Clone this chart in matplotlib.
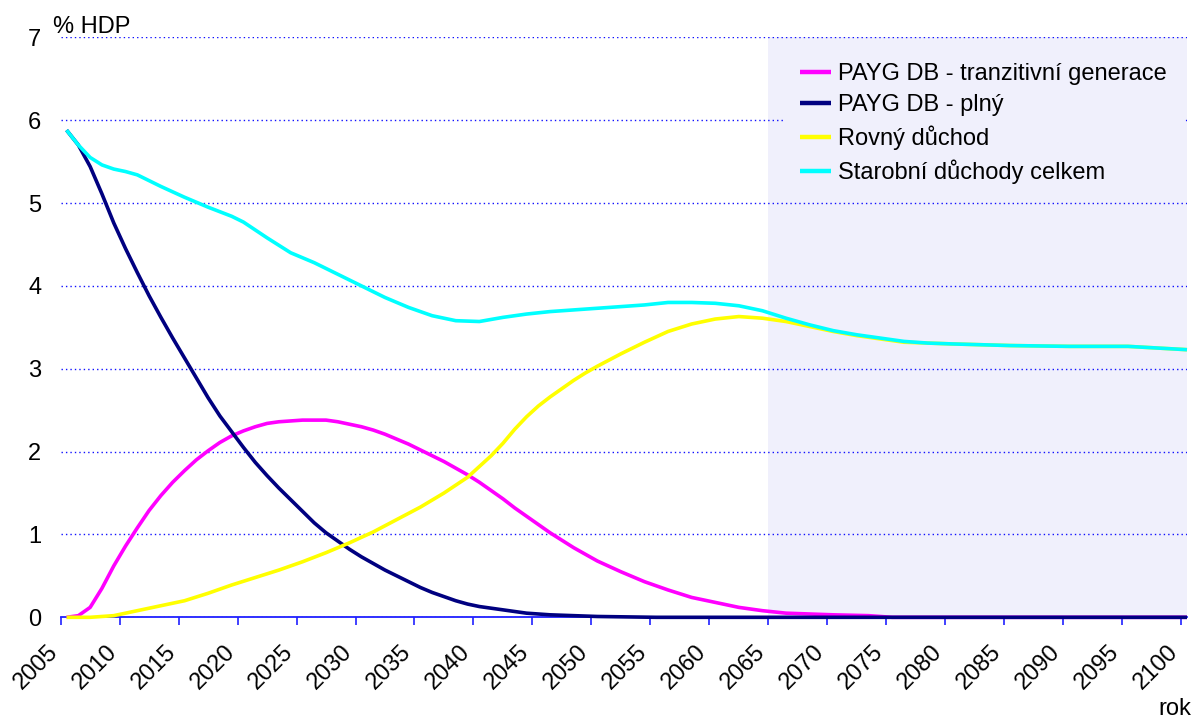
import matplotlib
matplotlib.use("Agg")
import matplotlib.pyplot as plt
import matplotlib.transforms as mtransforms
from matplotlib.ticker import FixedLocator

plt.rcParams["font.family"] = ["Liberation Sans", "DejaVu Sans"]

# PAYG DB - tranzitivní generace
yrs_tranz = [2005, 2006, 2007, 2008, 2009, 2010, 2011, 2012, 2013, 2014, 2015, 2016,
             2017, 2018, 2019, 2020, 2021, 2022, 2023, 2024, 2025, 2026, 2027, 2028,
             2029, 2030, 2031, 2032, 2033, 2034, 2035, 2036, 2037, 2038, 2039, 2040,
             2041, 2042, 2043, 2044, 2045, 2046, 2047, 2048, 2049, 2050, 2052, 2054,
             2056, 2058, 2060, 2062, 2064, 2066, 2068, 2070, 2073, 2075, 2100]
val_tranz = [0.0, 0.02, 0.12, 0.35, 0.62, 0.86, 1.08, 1.29, 1.47, 1.63, 1.77, 1.90,
             2.01, 2.11, 2.19, 2.25, 2.30, 2.34, 2.36, 2.37, 2.38, 2.38, 2.38, 2.36,
             2.33, 2.30, 2.26, 2.21, 2.15, 2.09, 2.02, 1.95, 1.88, 1.80, 1.72, 1.63,
             1.53, 1.43, 1.32, 1.22, 1.12, 1.02, 0.93, 0.84, 0.76, 0.68, 0.55, 0.43,
             0.33, 0.24, 0.18, 0.12, 0.08, 0.05, 0.04, 0.03, 0.02, 0.0, 0.0]

# PAYG DB - plný
yrs_plny = [2005, 2006, 2007, 2008, 2009, 2010, 2011, 2012, 2013, 2014, 2015, 2016,
            2017, 2018, 2019, 2020, 2021, 2022, 2023, 2024, 2025, 2026, 2027, 2028,
            2029, 2030, 2031, 2032, 2033, 2034, 2035, 2036, 2037, 2038, 2039, 2040,
            2042, 2044, 2046, 2048, 2050, 2055, 2100]
val_plny = [5.88, 5.70, 5.44, 5.11, 4.76, 4.45, 4.16, 3.88, 3.62, 3.37, 3.13, 2.89,
            2.65, 2.43, 2.24, 2.05, 1.87, 1.71, 1.56, 1.42, 1.28, 1.14, 1.02, 0.92,
            0.82, 0.73, 0.65, 0.57, 0.50, 0.43, 0.36, 0.30, 0.25, 0.20, 0.16, 0.13,
            0.09, 0.05, 0.03, 0.02, 0.01, 0.0, 0.0]

# Rovný důchod
yrs_rovny = [2005, 2007, 2009, 2011, 2013, 2015, 2017, 2019, 2021, 2023, 2025, 2027,
             2029, 2031, 2033, 2035, 2037, 2039, 2040, 2041, 2042, 2043, 2044, 2045,
             2046, 2047, 2048, 2049, 2050, 2052, 2054, 2056, 2058, 2060, 2062, 2064,
             2066, 2068, 2070, 2072, 2074, 2076, 2078, 2080, 2085, 2090, 2095, 2100]
val_rovny = [0.0, 0.0, 0.02, 0.08, 0.14, 0.20, 0.29, 0.39, 0.48, 0.57, 0.67, 0.78,
             0.90, 1.03, 1.18, 1.33, 1.50, 1.69, 1.82, 1.95, 2.10, 2.27, 2.42, 2.55,
             2.66, 2.76, 2.86, 2.95, 3.03, 3.18, 3.32, 3.45, 3.54, 3.60, 3.63, 3.61,
             3.57, 3.51, 3.45, 3.40, 3.36, 3.32, 3.31, 3.30, 3.28, 3.27, 3.27, 3.23]

# Starobní důchody celkem
yrs_celkem = [2005, 2006, 2007, 2008, 2009, 2010, 2011, 2012, 2013, 2015, 2017, 2019,
              2020, 2022, 2024, 2026, 2028, 2030, 2032, 2034, 2036, 2038, 2040, 2042,
              2044, 2046, 2048, 2050, 2052, 2054, 2056, 2058, 2060, 2062, 2064, 2066,
              2068, 2070, 2072, 2074, 2076, 2078, 2080, 2085, 2090, 2095, 2100]
val_celkem = [5.88, 5.70, 5.55, 5.46, 5.41, 5.38, 5.34, 5.27, 5.20, 5.07, 4.95, 4.84,
              4.77, 4.58, 4.40, 4.28, 4.14, 4.00, 3.86, 3.74, 3.64, 3.58, 3.57, 3.62,
              3.66, 3.69, 3.71, 3.73, 3.75, 3.77, 3.80, 3.80, 3.79, 3.76, 3.70, 3.61,
              3.53, 3.46, 3.41, 3.37, 3.33, 3.31, 3.30, 3.28, 3.27, 3.27, 3.23]

labels = ["PAYG DB - tranzitivní generace", "PAYG DB - plný",
          "Rovný důchod", "Starobní důchody celkem"]
colors = ["#FF00FF", "#000080", "#FFFF00", "#00FFFF"]
tick_years = list(range(2005, 2101, 5))
FS = 17

fig = plt.figure(figsize=(11.92, 7.22), dpi=100)
ax = fig.add_axes([0.0509, 0.1450, 0.9449, 0.8033])

ax.axvspan(2064.5, 2100, color="#F0F0FC", zorder=0, lw=0)

series = [(yrs_tranz, val_tranz), (yrs_plny, val_plny),
          (yrs_rovny, val_rovny), (yrs_celkem, val_celkem)]
for (x, y), lab, c in zip(series, labels, colors):
    ax.plot(x, y, color=c, lw=2.6, label=lab, solid_joinstyle="round",
            solid_capstyle="butt", clip_on=False, zorder=3)

ax.set_xlim(2004.5, 2100)
ax.set_ylim(0, 7)

for s in ["top", "right", "left"]:
    ax.spines[s].set_visible(False)
ax.spines["bottom"].set_color("#2020FF")
ax.spines["bottom"].set_linewidth(1.3)
ax.spines["bottom"].set_zorder(2)

ax.set_yticks(range(0, 8))
ax.yaxis.grid(True, color="#1010FF", lw=1.0, linestyle=(0, (1, 2.2)))
ax.set_axisbelow(True)
ax.tick_params(axis="y", length=0, pad=14, labelsize=FS)

ax.set_xticks(tick_years)
ax.set_xticklabels([str(y) for y in tick_years], rotation=45, ha="right",
                   va="top", rotation_mode="anchor")
ax.xaxis.set_minor_locator(FixedLocator([y - 0.5 for y in tick_years]))
ax.tick_params(axis="x", which="major", length=0, pad=17, labelsize=FS,
               colors="black")
ax.tick_params(axis="x", which="minor", length=6, width=1.2,
               color="#2020FF", direction="out")
shift = mtransforms.ScaledTranslation(-20 / 100, 0, fig.dpi_scale_trans)
for lbl in ax.get_xticklabels():
    lbl.set_transform(lbl.get_transform() + shift)

fig.text(53 / 1192, 1 - 33 / 722, "% HDP", fontsize=FS, va="baseline", ha="left")
fig.text(1158 / 1192, 1 - 720 / 722, "rok", fontsize=FS, va="bottom", ha="left")

leg = ax.legend(loc="upper left", bbox_to_anchor=(783 / 1192, 1 - 46 / 722),
                bbox_transform=fig.transFigure, frameon=True, fontsize=FS,
                handlelength=1.3, handletextpad=0.3, labelspacing=0.4,
                borderpad=0.72, borderaxespad=0, fancybox=False)
leg.get_frame().set_facecolor("#F0F0FC")
leg.get_frame().set_edgecolor("none")
leg.get_frame().set_alpha(1)
for h in leg.get_lines():
    h.set_linewidth(3.2)

fig.savefig("out.png", dpi=100)
